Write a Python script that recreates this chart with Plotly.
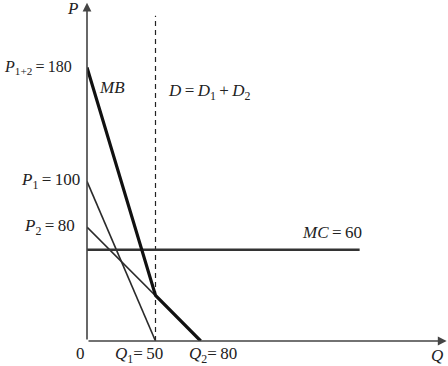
import plotly.graph_objects as go

# Data (economic units)
q_d1 = [0, 50]
p_d1 = [105, 0]
q_d2 = [0, 83]
p_d2 = [75, 0]
q_mb = [0, 50, 83]
p_mb = [180, 30, 0]
q_mc = [0, 199]
p_mc = [60, 60]
q_dash = [50, 50]
p_dash = [0, 214]

TS = "\u2009"  # thin space
label_p12 = f"<i>P</i><sub>1+2</sub>{TS}={TS}180"
label_p1 = f"<i>P</i><sub>1</sub>{TS}={TS}100"
label_p2 = f"<i>P</i><sub>2</sub>{TS}={TS}80"
label_q1 = f"<i>Q</i><sub>1</sub>={TS}50"
label_q2 = f"<i>Q</i><sub>2</sub>={TS}80"
label_mc = f"<i>MC</i>{TS}={TS}60"
label_mb = "<i>MB</i>"
label_d = f"<i>D</i>{TS}={TS}<i>D</i><sub>1</sub>{TS}+{TS}<i>D</i><sub>2</sub>"

W, H = 448, 366
ML, MB_, MT, MR = 87, 25, 0, 0
XS, YS = 1.37, 1.52
xr = [0, (W - ML - MR) / XS]
yr = [0, (H - MT - MB_) / YS]

fig = go.Figure()
fig.add_trace(go.Scatter(x=q_dash, y=p_dash, mode="lines",
                         line=dict(color="#222", width=1.2, dash="5px,4px")))
fig.add_trace(go.Scatter(x=q_d1, y=p_d1, mode="lines", line=dict(color="#2a2a2a", width=1.6)))
fig.add_trace(go.Scatter(x=q_d2, y=p_d2, mode="lines", line=dict(color="#2a2a2a", width=1.6)))
fig.add_trace(go.Scatter(x=q_mc, y=p_mc, mode="lines", line=dict(color="#333", width=2.6)))
fig.add_trace(go.Scatter(x=q_mb, y=p_mb, mode="lines", line=dict(color="#111", width=3.2)))

font = dict(family="Liberation Serif, Times New Roman, serif", size=17, color="#222")

ann = []
# axes as arrows
ann.append(dict(x=0, y=222.5, ax=0, ay=0, xref="x", yref="y", axref="x", ayref="y",
                showarrow=True, arrowhead=2, arrowsize=1.1, arrowwidth=1.6, arrowcolor="#444", text=""))
ann.append(dict(x=262.5, y=0, ax=0, ay=0, xref="x", yref="y", axref="x", ayref="y",
                showarrow=True, arrowhead=2, arrowsize=1.1, arrowwidth=1.6, arrowcolor="#444", text=""))

def lab(text, x, y, xanchor="center", xshift=0, yshift=0, size=17):
    f = dict(font)
    f["size"] = size
    ann.append(dict(x=x, y=y, xref="x", yref="y", text=text, showarrow=False,
                    xanchor=xanchor, yanchor="middle", xshift=xshift, yshift=yshift,
                    font=f, borderpad=0))

lab("<i>P</i>", 0, 219, xanchor="right", xshift=-8)
lab(label_p12, 0, p_mb[0], xanchor="right", xshift=-14, size=16)
lab(label_p1, 0, p_d1[0], xanchor="right", xshift=-6)
lab(label_p2, 0, p_d2[0], xanchor="right", xshift=-11)
lab(label_mb, 18, 167)
lab(label_d, 58.5, 164, xanchor="left")
lab(label_mc, q_mc[1], p_mc[0], xanchor="right", xshift=3, yshift=17)
lab("0", 0, 0, xshift=-7, yshift=-12)
lab(label_q1, q_d1[1], 0, xanchor="right", xshift=8, yshift=-14)
lab(label_q2, q_d2[1], 0, xshift=12, yshift=-14)
lab("<i>Q</i>", 255.5, 0, yshift=-14)

fig.update_layout(
    width=W, height=H,
    margin=dict(l=ML, r=MR, t=MT, b=MB_),
    paper_bgcolor="white", plot_bgcolor="white",
    showlegend=False,
    xaxis=dict(range=xr, visible=False, fixedrange=True),
    yaxis=dict(range=yr, visible=False, fixedrange=True),
    annotations=ann,
)
fig.write_html("out.html", config={"displayModeBar": False},
               post_script="document.body.style.margin='0px';document.body.style.overflow='hidden';")
